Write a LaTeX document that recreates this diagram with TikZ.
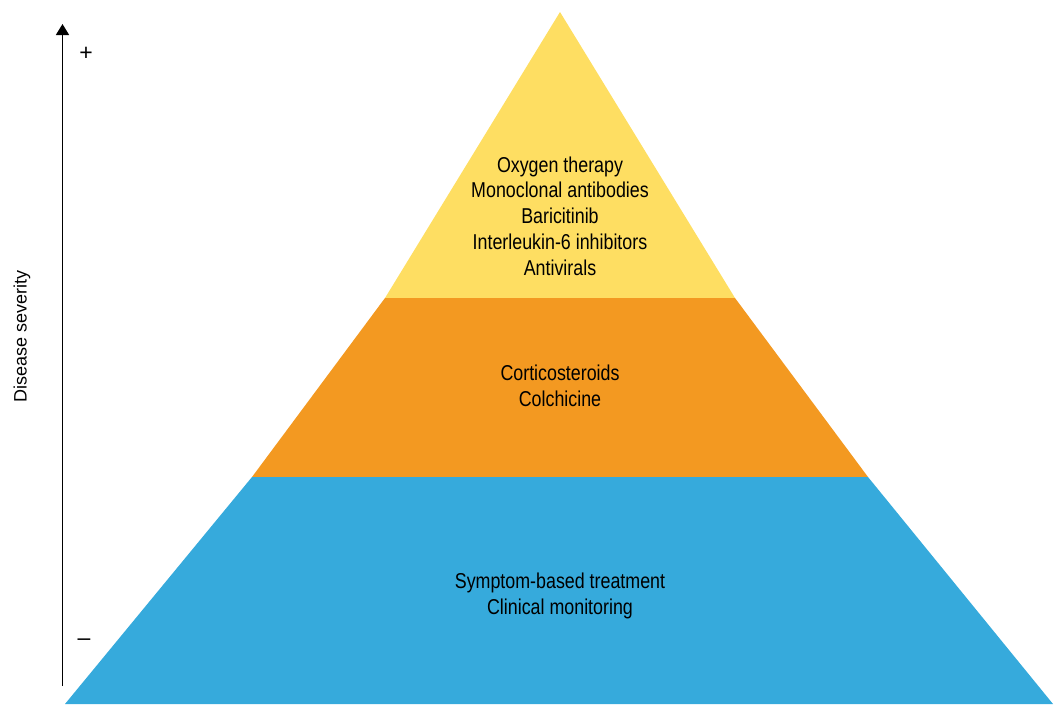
\documentclass[tikz,border=0pt]{standalone}
\usepackage{fontspec}
\setmainfont{Liberation Sans}
\newfontfamily\narrowfont[FakeStretch=0.83]{Liberation Sans}
\usetikzlibrary{arrows.meta}
\definecolor{tieryellow}{RGB}{254,222,98}
\definecolor{tierorange}{RGB}{243,153,33}
\definecolor{tierblue}{RGB}{54,170,220}

\begin{document}
\begin{tikzpicture}[x=1pt, y=-1pt, >={Triangle[length=11pt,width=13pt]}]
    \tikzset{tier/.style={align=center, inner sep=0pt, font=\narrowfont\fontsize{21.5}{25.7}\selectfont},
             sidelabel/.style={inner sep=0pt, font=\fontsize{18}{20}\selectfont},
             signlabel/.style={inner sep=0pt, font=\fontsize{23}{24}\selectfont}}
    \useasboundingbox (0,0) rectangle (1060,704);
    % pyramid tiers, top to bottom
    \fill[tieryellow] (560,12) -- (735,298) -- (385,298) -- cycle;
    \fill[tierorange] (385,298) -- (735,298) -- (868,477) -- (252,477) -- cycle;
    \fill[tierblue] (252,477) -- (868,477) -- (1053,704) -- (65,704) -- cycle;
    \node[tier] (severe) at (560,216) {Oxygen therapy\\Monoclonal antibodies\\Baricitinib\\Interleukin-6 inhibitors\\Antivirals};
    \node[tier] (moderate) at (560,386) {Corticosteroids\\Colchicine};
    \node[tier] (mild) at (560,596) {Symptom-based treatment\\Clinical monitoring};
    % severity axis
    \coordinate (axislow) at (62.5,686);
    \coordinate (axishigh) at (62.5,24);
    \draw[->, line width=1.5pt] (axislow) -- (axishigh);
    \node[signlabel] (plus) at (86,54) {+};
    \node[signlabel] (minus) at (84,642) {--};
    \node[sidelabel, rotate=90] (severity) at (22,336) {Disease severity};
\end{tikzpicture}
\end{document}
